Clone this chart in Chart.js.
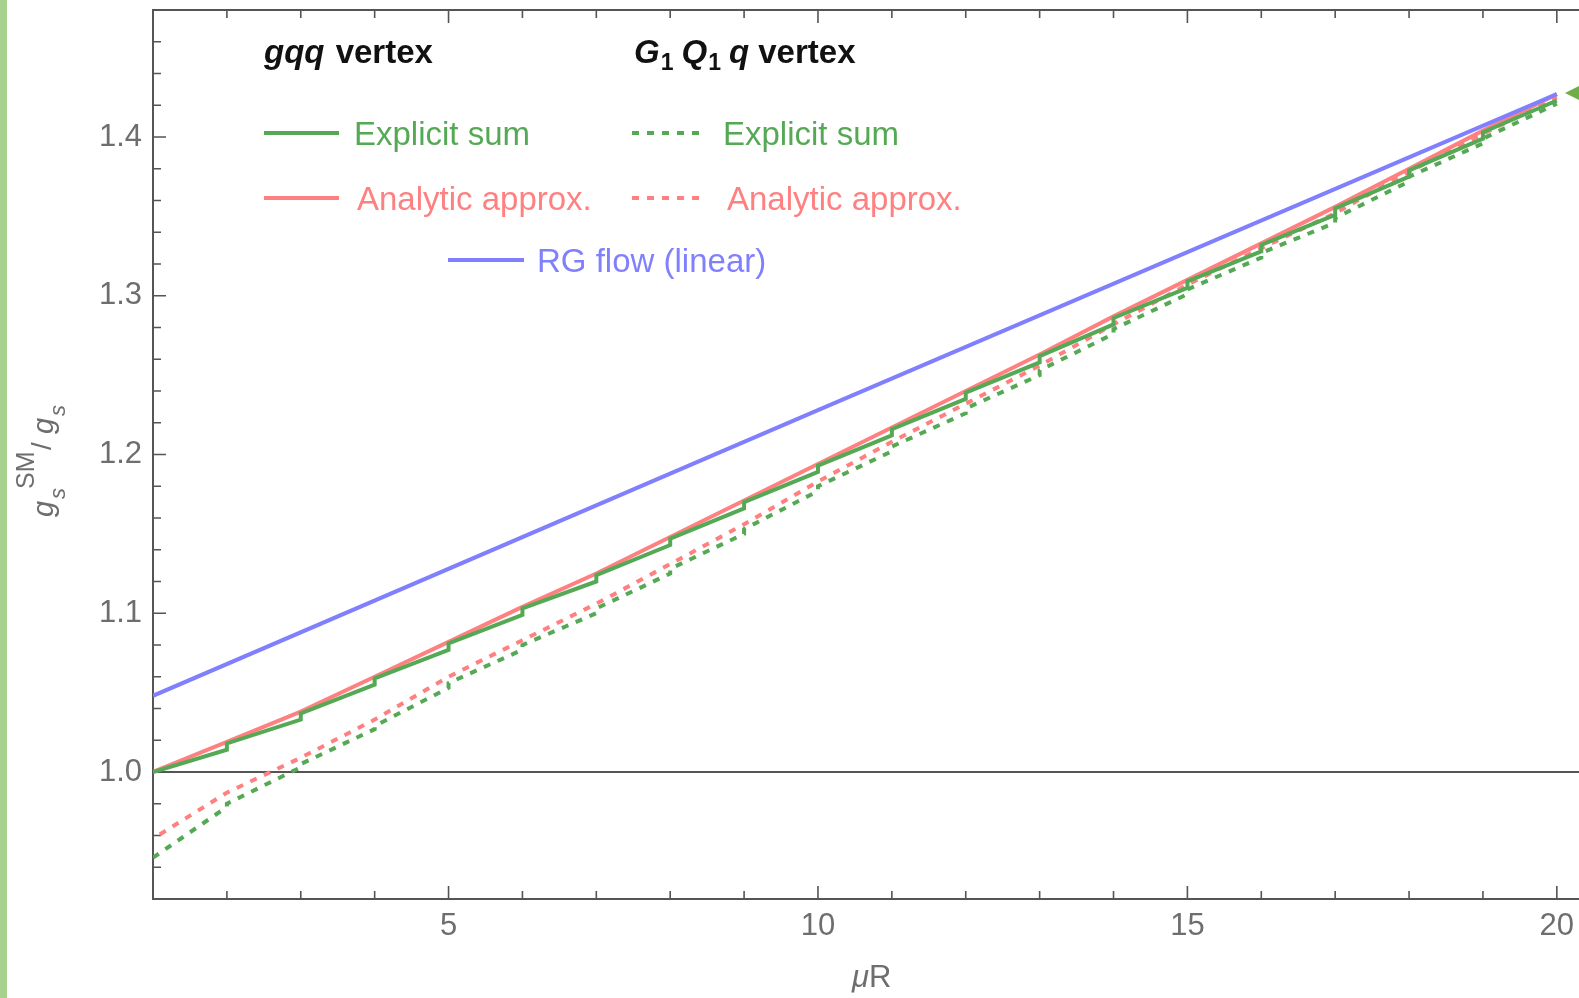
<!DOCTYPE html>
<html>
<head>
<meta charset="utf-8">
<title>g_s^SM / g_s vs muR</title>
<script src="https://cdn.jsdelivr.net/npm/chart.js@4"></script>
<style>
  body { margin: 0; background: #fff; overflow: hidden; }
  #wrap { position: relative; width: 1579px; height: 998px; overflow: hidden; }
  #edge { position: absolute; left: 0; top: 0; width: 7px; height: 998px; background: #a9d18e; }
  #marker { position: absolute; left: 1565px; top: 85px; width: 0; height: 0;
            border-top: 8px solid transparent; border-bottom: 8px solid transparent;
            border-right: 16px solid #70ad47; }
</style>
</head>
<body>
<div id="wrap">
  <canvas id="chart" width="1579" height="998"></canvas>
  <div id="edge"></div>
  <div id="marker"></div>
</div>
<script>
// muR grid
const muR = [1, 2, 3, 4, 5, 6, 7, 8, 9, 10, 11, 12, 13, 14, 15, 16, 17, 18, 19, 20];

// gqq vertex, analytic approximation
const analyticGqq = [1.000, 1.019, 1.038, 1.060, 1.082, 1.104, 1.125, 1.148, 1.171, 1.194,
                     1.217, 1.240, 1.263, 1.287, 1.310, 1.333, 1.356, 1.380, 1.404, 1.427];
// G1 Q1 q vertex, analytic approximation
const analyticG1Q1q = [0.958, 0.987, 1.009, 1.033, 1.060, 1.083, 1.106, 1.131, 1.156, 1.183,
                       1.208, 1.232, 1.256, 1.282, 1.307, 1.330, 1.352, 1.378, 1.402, 1.425];

// explicit sums jump at every integer muR (a new KK mode comes in):
// value right after the threshold at muR = 1..19 and right before the next one at muR = 2..20
const explicitGqqAfter = [1.000, 1.018, 1.037, 1.059, 1.081, 1.103, 1.124, 1.147, 1.170, 1.193,
                          1.216, 1.239, 1.262, 1.286, 1.309, 1.332, 1.355, 1.379, 1.403];
const explicitGqqBefore = [1.014, 1.033, 1.055, 1.077, 1.099, 1.120, 1.143, 1.166, 1.189, 1.212,
                           1.235, 1.258, 1.282, 1.305, 1.328, 1.351, 1.375, 1.399, 1.423];
const explicitG1Q1qAfter = [0.946, 0.980, 1.005, 1.029, 1.056, 1.080, 1.103, 1.128, 1.153, 1.180,
                            1.205, 1.229, 1.253, 1.279, 1.304, 1.327, 1.349, 1.375, 1.399];
const explicitG1Q1qBefore = [0.978, 1.003, 1.027, 1.053, 1.077, 1.100, 1.125, 1.150, 1.177, 1.202,
                             1.226, 1.250, 1.276, 1.301, 1.324, 1.346, 1.372, 1.396, 1.421];

// RG flow (linear)
const rgMuR = [1, 10, 20];
const rgFlow = [1.048, 1.228, 1.427];

// tick labels
const xTicks = [5, 10, 15, 20];
const yTicks = [1.0, 1.1, 1.2, 1.3, 1.4];

const GREEN = '#55a955';
const RED = '#ff8080';
const BLUE = '#8080ff';
const AXIS = '#555555';
const LABEL = '#6e6e6e';
const FONT = "'Liberation Sans', Arial, sans-serif";
const DOTS = [7, 8];

function pairs(xs, ys) {
    return xs.map((x, i) => ({ x: x, y: ys[i] }));
}

// sawtooth: from each threshold to just below the next one, then straight up
function steps(after, before) {
    const pts = [];
    for (let i = 0; i < after.length; i++) {
        pts.push({ x: muR[i], y: after[i] });
        pts.push({ x: muR[i + 1], y: before[i] });
    }
    return pts;
}

// draws a row of text pieces with their own fonts and vertical shifts
function pieces(ctx, x, y, list) {
    let cx = x;
    list.forEach(p => {
        ctx.font = p.font;
        ctx.fillText(p.text, cx, y + (p.dy || 0));
        cx += ctx.measureText(p.text).width + (p.gap || 0);
    });
}

// frame, axis at 1.0 and inward ticks like the original plot
const framePlugin = {
    id: 'frame',
    beforeDatasetsDraw(chart) {
        const { ctx, chartArea: a, scales: { x, y } } = chart;
        ctx.save();
        ctx.strokeStyle = AXIS;
        ctx.lineWidth = 2;
        ctx.beginPath();
        ctx.moveTo(a.right + 5, a.top);
        ctx.lineTo(a.left, a.top);
        ctx.lineTo(a.left, a.bottom);
        ctx.lineTo(a.right + 5, a.bottom);
        const one = y.getPixelForValue(1.0);
        ctx.moveTo(a.left, one);
        ctx.lineTo(a.right + 5, one);
        ctx.stroke();

        ctx.lineWidth = 1.6;
        ctx.beginPath();
        for (let k = 47; k <= 73; k++) {
            const py = y.getPixelForValue(k / 50);
            const len = k % 5 === 0 ? 13 : 8;
            ctx.moveTo(a.left, py);
            ctx.lineTo(a.left + len, py);
        }
        for (let n = 2; n <= 20; n++) {
            const px = x.getPixelForValue(n);
            const len = n % 5 === 0 ? 13 : 8;
            ctx.moveTo(px, a.bottom);
            ctx.lineTo(px, a.bottom - len);
            ctx.moveTo(px, a.top);
            ctx.lineTo(px, a.top + len);
        }
        ctx.stroke();
        ctx.restore();
    },
    afterDraw(chart) {
        const { ctx } = chart;
        ctx.save();

        // legend headings
        ctx.fillStyle = '#111';
        ctx.textBaseline = 'alphabetic';
        pieces(ctx, 264, 63, [
            { text: 'gqq', font: 'italic bold 33px ' + FONT, gap: 2 },
            { text: ' vertex', font: 'bold 33px ' + FONT }
        ]);
        pieces(ctx, 634, 63, [
            { text: 'G', font: 'italic bold 33px ' + FONT, gap: 1 },
            { text: '1', font: 'bold 23px ' + FONT, dy: 7, gap: 8 },
            { text: 'Q', font: 'italic bold 33px ' + FONT, gap: 1 },
            { text: '1', font: 'bold 23px ' + FONT, dy: 7, gap: 8 },
            { text: 'q', font: 'italic bold 33px ' + FONT },
            { text: ' vertex', font: 'bold 33px ' + FONT }
        ]);

        // legend samples
        const entry = (x0, x1, y, color, dash, label, tx) => {
            ctx.strokeStyle = color;
            ctx.lineWidth = 4;
            ctx.setLineDash(dash);
            ctx.beginPath();
            ctx.moveTo(x0, y);
            ctx.lineTo(x1, y);
            ctx.stroke();
            ctx.setLineDash([]);
            ctx.fillStyle = color;
            ctx.font = '33px ' + FONT;
            ctx.fillText(label, tx, y + 12);
        };
        entry(264, 339, 133, GREEN, [], 'Explicit sum', 354);
        entry(264, 339, 198, RED, [], 'Analytic approx.', 357);
        entry(632, 702, 133, GREEN, DOTS, 'Explicit sum', 723);
        entry(632, 702, 198, RED, DOTS, 'Analytic approx.', 727);
        entry(448, 524, 260, BLUE, [], 'RG flow (linear)', 537);

        // x axis title
        ctx.fillStyle = LABEL;
        pieces(ctx, 852, 987, [
            { text: 'μ', font: 'italic 31px ' + FONT },
            { text: 'R', font: '31px ' + FONT }
        ]);

        // y axis title, rotated
        ctx.translate(53, 517);
        ctx.rotate(-Math.PI / 2);
        ctx.font = 'italic 29px ' + FONT;
        ctx.fillText('g', 0, 0);
        ctx.font = 'italic 22px ' + FONT;
        ctx.fillText('s', 18, 12);
        ctx.font = '25px ' + FONT;
        ctx.fillText('SM', 28, -19);
        ctx.font = '28px ' + FONT;
        ctx.fillText('/', 67, -2);
        ctx.font = 'italic 29px ' + FONT;
        ctx.fillText('g', 83, 0);
        ctx.font = 'italic 22px ' + FONT;
        ctx.fillText('s', 101, 12);
        ctx.restore();
    }
};

const ctx = document.getElementById('chart').getContext('2d');
const chart = new Chart(ctx, {
    type: 'line',
    data: {
        datasets: [
            {
                label: 'RG flow (linear)',
                data: pairs(rgMuR, rgFlow),
                borderColor: BLUE,
                order: 0
            },
            {
                label: 'Explicit sum (gqq)',
                data: steps(explicitGqqAfter, explicitGqqBefore),
                borderColor: GREEN,
                order: 1
            },
            {
                label: 'Analytic approx. (gqq)',
                data: pairs(muR, analyticGqq),
                borderColor: RED,
                order: 2
            },
            {
                label: 'Explicit sum (G1Q1q)',
                data: steps(explicitG1Q1qAfter, explicitG1Q1qBefore),
                borderColor: GREEN,
                borderDash: DOTS,
                order: 3
            },
            {
                label: 'Analytic approx. (G1Q1q)',
                data: pairs(muR, analyticG1Q1q),
                borderColor: RED,
                borderDash: DOTS,
                borderDashOffset: 7,
                order: 4
            }
        ]
    },
    options: {
        responsive: false,
        animation: false,
        devicePixelRatio: 1,
        layout: { padding: { top: 10, left: 0, right: 0, bottom: 0 } },
        elements: {
            point: { radius: 0 },
            line: { borderWidth: 4, tension: 0, fill: false }
        },
        plugins: {
            legend: { display: false },
            tooltip: { enabled: false }
        },
        scales: {
            x: {
                type: 'linear',
                min: 1,
                max: 20.3,
                grid: { display: false, drawTicks: false },
                border: { display: false },
                afterBuildTicks: s => { s.ticks = xTicks.map(v => ({ value: v })); },
                afterFit: s => { s.height = 99; s.paddingLeft = 0; s.paddingRight = 0; },
                ticks: {
                    padding: 9,
                    maxRotation: 0,
                    color: LABEL,
                    font: { family: FONT, size: 31 },
                    callback: v => String(v)
                }
            },
            y: {
                type: 'linear',
                min: 0.92,
                max: 1.48,
                grid: { display: false, drawTicks: false },
                border: { display: false },
                afterBuildTicks: s => { s.ticks = yTicks.map(v => ({ value: v })); },
                afterFit: s => { s.width = 153; s.paddingTop = 0; s.paddingBottom = 0; },
                ticks: {
                    padding: 11,
                    color: LABEL,
                    font: { family: FONT, size: 31 },
                    callback: v => v.toFixed(1)
                }
            }
        }
    },
    plugins: [framePlugin]
});
</script>
</body>
</html>
